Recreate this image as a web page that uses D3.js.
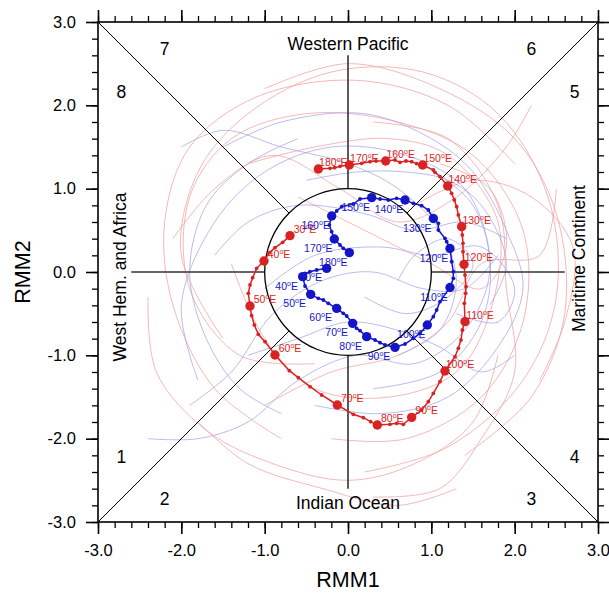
<!DOCTYPE html>
<html>
<head>
<meta charset="utf-8">
<script src="https://cdn.jsdelivr.net/npm/d3@7"></script>
<style>
  body { margin: 0; background: #fff; }
  svg { font-family: "Liberation Sans", Arial, sans-serif; }
</style>
</head>
<body>
<div id="chart"></div>
<script>
// composite tracks, [RMM1, RMM2, lon label or null]
const redTrack = [
  [-0.696, 0.436, 30], [-0.784, 0.356], [-0.876, 0.292], [-0.944, 0.232],
  [-1.008, 0.132, 40], [-1.096, 0.044], [-1.144, -0.068], [-1.176, -0.156], [-1.196, -0.256],
  [-1.176, -0.408, 50], [-1.156, -0.524], [-1.124, -0.636], [-1.076, -0.748], [-0.996, -0.836],
  [-0.876, -0.996, 60], [-0.704, -1.184], [-0.596, -1.268], [-0.456, -1.376], [-0.316, -1.476],
  [-0.128, -1.596, 70], [0.064, -1.708], [0.184, -1.748], [0.272, -1.796],
  [0.352, -1.836, 80], [0.504, -1.828], [0.584, -1.816], [0.664, -1.828],
  [0.764, -1.744, 90], [0.884, -1.656], [0.964, -1.556], [1.024, -1.456], [1.104, -1.316],
  [1.164, -1.188, 100], [1.284, -1.016], [1.324, -0.916], [1.356, -0.816], [1.372, -0.696],
  [1.404, -0.596, 110], [1.396, -0.376], [1.412, -0.256], [1.416, -0.176], [1.404, -0.036],
  [1.392, 0.092, 120], [1.380, 0.244], [1.380, 0.344], [1.372, 0.444],
  [1.364, 0.544, 130], [1.324, 0.684], [1.304, 0.784], [1.276, 0.864], [1.244, 0.944],
  [1.196, 1.032, 140], [1.104, 1.144], [1.044, 1.196], [1.024, 1.224],
  [0.896, 1.284, 150], [0.824, 1.300], [0.764, 1.324], [0.696, 1.332], [0.624, 1.316], [0.564, 1.344],
  [0.452, 1.332, 160], [0.336, 1.332], [0.264, 1.324], [0.164, 1.304],
  [0.016, 1.284, 170], [-0.096, 1.268], [-0.160, 1.252], [-0.216, 1.244],
  [-0.356, 1.236, 180]
];

const blueTrack = [
  [-0.256, 0.044, 30], [-0.376, 0.024], [-0.456, 0.004], [-0.516, -0.016],
  [-0.544, -0.056, 40], [-0.516, -0.168],
  [-0.448, -0.268, 50], [-0.356, -0.316], [-0.296, -0.336], [-0.236, -0.376],
  [-0.136, -0.436, 60], [-0.056, -0.496], [-0.016, -0.528],
  [0.056, -0.616, 70], [0.104, -0.676], [0.144, -0.704],
  [0.224, -0.776, 80], [0.324, -0.816], [0.384, -0.848], [0.444, -0.876],
  [0.564, -0.904, 90], [0.684, -0.864], [0.784, -0.796], [0.864, -0.736],
  [0.952, -0.636, 100], [1.024, -0.536], [1.064, -0.456], [1.104, -0.356],
  [1.224, -0.186, 110], [1.264, -0.076], [1.264, 0.004], [1.244, 0.124],
  [1.224, 0.282, 120], [1.184, 0.364], [1.164, 0.404], [1.084, 0.504], [1.084, 0.584],
  [1.024, 0.642, 130], [0.964, 0.744], [0.884, 0.796], [0.784, 0.824],
  [0.684, 0.864, 140], [0.584, 0.884], [0.484, 0.864], [0.384, 0.876],
  [0.284, 0.892, 150], [0.144, 0.876], [0.064, 0.816], [-0.076, 0.784], [-0.136, 0.732],
  [-0.196, 0.672, 160], [-0.224, 0.564], [-0.196, 0.484],
  [-0.164, 0.396, 170], [-0.096, 0.324], [-0.056, 0.284],
  [0.016, 0.232, 180]
];

// individual cases (faint)
const redCases = [
  [[-1.5,-0.8],[-2.0,0.2],[-1.8,1.2],[-1.2,1.9],[-0.2,2.4],[0.9,2.4],[1.8,1.9],[2.4,0.9],[2.5,-0.3],[2.1,-1.3],[1.2,-2.1],[0.2,-2.4]],
  [[-0.8,-2.0],[-1.6,-1.4],[-2.1,-0.4],[-2.2,0.6],[-1.9,1.5],[-1.1,2.1],[0.1,2.3],[1.2,2.0],[2.0,1.3]],
  [[1.4,-2.2],[2.2,-1.5],[2.6,-0.5],[2.5,0.7],[2.0,1.6],[1.1,2.2],[0.0,2.5],[-1.0,2.2]],
  [[-0.4,-1.1],[-1.3,-1.0],[-1.9,-0.2],[-1.9,0.9],[-1.4,1.6],[-0.5,1.9],[0.6,1.8],[1.5,1.4],[2.1,0.5],[2.1,-0.6],[1.6,-1.5],[0.7,-2.0],[-0.2,-2.0]],
  [[0.3,-2.7],[1.1,-2.6],[1.6,-2.0],[2.0,-1.2],[1.9,-0.2],[1.8,0.8],[1.2,1.6],[0.3,1.8]],
  [[-0.6,0.9],[0.2,0.5],[1.0,0.1],[1.6,-0.2],[1.9,0.3],[1.7,1.0],[1.1,1.3]],
  [[-2.4,-0.3],[-2.3,-1.2],[-1.7,-1.9],[-0.9,-2.3],[0.0,-2.5],[0.8,-2.3],[1.5,-1.8],[1.8,-1.0]],
  [[-1.8,-1.8],[-1.2,-2.3],[-0.3,-2.6],[0.6,-2.8],[1.3,-2.6]],
  [[0.8,0.8],[1.5,1.1],[2.2,0.9],[2.7,0.3],[2.6,-0.6],[2.3,-1.3]],
  [[-1.2,1.3],[-0.4,1.5],[0.5,1.6],[1.2,1.4],[1.8,0.6],[1.7,-0.5],[1.3,-1.2],[0.5,-1.5],[-0.4,-1.4],[-1.0,-0.8],[-1.4,0.1]],
  [[-2.1,0.4],[-1.6,1.0],[-0.9,1.4],[-0.1,1.0],[0.6,0.6],[1.3,0.9],[1.9,1.5],[2.2,2.0]],
  [[-1.0,-1.6],[-0.2,-1.2],[0.6,-1.0],[1.2,-0.6],[1.6,0.1],[2.3,0.2],[2.5,1.0]]
];

const blueCases = [
  [[-1.8,-1.3],[-2.0,-0.4],[-1.6,0.6],[-1.0,1.2],[-0.2,1.5],[0.7,1.4],[1.4,1.0],[1.7,0.2],[1.6,-0.6],[1.1,-1.2],[0.3,-1.4]],
  [[-2.4,-2.0],[-1.8,-2.0],[-1.2,-1.8],[-0.6,-1.3],[0.1,-1.0],[0.8,-1.1],[1.4,-0.7],[1.7,0.0],[1.5,0.8],[0.9,1.3]],
  [[-1.5,1.5],[-0.8,1.8],[0.2,1.9],[1.0,1.6],[1.5,1.2],[1.9,0.5],[2.1,-0.2],[1.8,-0.9],[1.2,-1.5],[0.4,-1.7],[-0.4,-1.6]],
  [[-1.0,-0.2],[-0.4,0.2],[0.4,0.3],[1.0,0.2],[1.6,0.3],[2.0,-0.2],[1.8,-0.6],[1.3,-0.5]],
  [[-1.6,0.2],[-1.2,0.6],[-0.6,0.8],[0.2,0.7],[0.8,0.5],[1.4,0.6],[1.9,0.4]],
  [[-0.8,-1.7],[-1.3,-1.4],[-1.7,-0.8],[-1.9,0.0],[-1.7,0.8],[-1.2,1.3],[-0.6,1.6]],
  [[-2.0,1.5],[-1.5,1.7],[-0.8,1.5],[0.0,1.3],[0.6,1.0],[1.1,0.5],[1.3,-0.1],[1.1,-0.7],[0.6,-1.0]],
  [[0.2,-0.3],[0.7,-0.5],[1.2,-0.3],[1.5,0.1],[1.2,0.4],[0.8,0.2],[0.6,-0.1]],
  [[-1.2,-1.0],[-0.6,-0.8],[0.0,-0.6],[0.6,-0.7],[1.1,-0.9],[1.6,-1.2],[2.0,-1.0]],
  [[-0.5,1.1],[0.1,1.2],[0.7,1.2],[1.2,1.1],[1.6,0.8],[1.9,0.1],[1.7,-0.4]],
  [[-1.9,-1.6],[-1.4,-1.2],[-0.9,-0.5],[-0.3,-0.1],[0.3,0.0],[0.9,-0.2],[1.4,-0.2],[1.8,0.2]]
];

const majorTicks = [-3, -2, -1, 0, 1, 2, 3];
const minorTicks = d3.range(-30, 31, 2).map(d => d / 10);

const phaseLabels = [
  {t: "1", x: -2.72, y: -2.22}, {t: "2", x: -2.2, y: -2.72},
  {t: "3", x: 2.2, y: -2.72},  {t: "4", x: 2.72, y: -2.22},
  {t: "5", x: 2.72, y: 2.16},  {t: "6", x: 2.2, y: 2.68},
  {t: "7", x: -2.2, y: 2.68},  {t: "8", x: -2.72, y: 2.16}
];

const W = 609, H = 594;
const x = d3.scaleLinear().domain([-3, 3]).range([98, 598]);
const y = d3.scaleLinear().domain([-3, 3]).range([522, 22]);

const svg = d3.select("#chart").append("svg")
  .attr("width", W).attr("height", H);

const line = d3.line().x(d => x(d[0])).y(d => y(d[1]));
const smooth = d3.line().x(d => x(d[0])).y(d => y(d[1])).curve(d3.curveCatmullRom);

// clip faint lines to the frame
svg.append("clipPath").attr("id", "frame")
  .append("rect").attr("x", x(-3)).attr("y", y(3))
  .attr("width", x(3) - x(-3)).attr("height", y(-3) - y(3));

const bg = svg.append("g").attr("clip-path", "url(#frame)");
bg.selectAll(".rc").data(redCases).enter().append("path")
  .attr("d", smooth).attr("fill", "none")
  .attr("stroke", "#f2a0a0").attr("stroke-width", 1).attr("opacity", 0.75);
bg.selectAll(".bc").data(blueCases).enter().append("path")
  .attr("d", smooth).attr("fill", "none")
  .attr("stroke", "#a4a4ec").attr("stroke-width", 1).attr("opacity", 0.75);

// phase dividers
const r0 = 1, rAxis = 2.6, k = Math.SQRT1_2;
const diag = [[-1,-1],[1,-1],[1,1],[-1,1]];
diag.forEach(([sx, sy]) => {
  svg.append("line")
    .attr("x1", x(sx * r0 * k)).attr("y1", y(sy * r0 * k))
    .attr("x2", x(sx * 3)).attr("y2", y(sy * 3))
    .attr("stroke", "#000").attr("stroke-width", 1);
});
[[1,0],[-1,0],[0,1],[0,-1]].forEach(([sx, sy]) => {
  svg.append("line")
    .attr("x1", x(sx * r0)).attr("y1", y(sy * r0))
    .attr("x2", x(sx * rAxis)).attr("y2", y(sy * rAxis))
    .attr("stroke", "#333").attr("stroke-width", 1.6);
});
svg.append("circle")
  .attr("cx", x(0)).attr("cy", y(0)).attr("r", x(1) - x(0))
  .attr("fill", "none").attr("stroke", "#000").attr("stroke-width", 1.3);

// region names
const lbl = svg.append("g").attr("font-size", 17.5).attr("fill", "#000");
lbl.append("text").attr("x", x(0)).attr("y", 50).attr("text-anchor", "middle").text("Western Pacific");
lbl.append("text").attr("x", x(0)).attr("y", 509).attr("text-anchor", "middle").text("Indian Ocean");
lbl.append("text").attr("transform", `translate(126,${y(-0.06)}) rotate(-90)`)
  .attr("text-anchor", "middle").text("West Hem. and Africa");
lbl.append("text").attr("transform", `translate(585,${y(0.16)}) rotate(-90)`)
  .attr("text-anchor", "middle").text("Maritime Continent");
lbl.selectAll(".ph").data(phaseLabels).enter().append("text")
  .attr("x", d => x(d.x)).attr("y", d => y(d.y)).attr("dy", "0.35em")
  .attr("text-anchor", "middle").text(d => d.t);

// composite tracks
function drawTrack(data, color, dx, dy) {
  const g = svg.append("g");
  g.append("path").datum(data).attr("d", line)
    .attr("fill", "none").attr("stroke", color).attr("stroke-width", 1.5);
  g.selectAll(".sm").data(data.filter(d => d[2] == null)).enter().append("circle")
    .attr("cx", d => x(d[0])).attr("cy", d => y(d[1])).attr("r", 1.9).attr("fill", color);
  const big = data.filter(d => d[2] != null);
  g.selectAll(".bg").data(big).enter().append("circle")
    .attr("cx", d => x(d[0])).attr("cy", d => y(d[1])).attr("r", 4.7).attr("fill", color);
  const t = g.selectAll(".lb").data(big).enter().append("text")
    .attr("x", d => x(d[0]) + dx).attr("y", d => y(d[1]) + dy + 4)
    .attr("text-anchor", "middle").attr("font-size", 10.5).attr("fill", color);
  t.append("tspan").text(d => d[2]);
  t.append("tspan").attr("font-size", 7).attr("dy", -4).text("o");
  t.append("tspan").attr("dy", 4).text("E");
}
drawTrack(redTrack, "#d92323", 15, -7);
drawTrack(blueTrack, "#1515c8", -16, 9);

// frame and ticks
svg.append("rect").attr("x", x(-3)).attr("y", y(3))
  .attr("width", x(3) - x(-3)).attr("height", y(-3) - y(3))
  .attr("fill", "none").attr("stroke", "#000").attr("stroke-width", 1.6);

const fmt = d => d.toFixed(1);
function axes(gen, tr, labels) {
  const gMaj = svg.append("g").attr("transform", tr)
    .call(gen.tickValues(majorTicks).tickSize(12).tickSizeOuter(0).tickPadding(labels ? 10 : 0)
      .tickFormat(labels ? fmt : ""));
  gMaj.select(".domain").remove();
  gMaj.selectAll("line").attr("stroke-width", 1.6);
  gMaj.selectAll("text").attr("font-size", 16.5).attr("font-family", "Liberation Sans, Arial, sans-serif");
  const gMin = svg.append("g").attr("transform", tr)
    .call(gen.tickValues(minorTicks).tickSize(6).tickFormat(""));
  gMin.select(".domain").remove();
  gMin.selectAll("line").attr("stroke-width", 1.3);
}
axes(d3.axisBottom(x), `translate(0,${y(-3)})`, true);
axes(d3.axisTop(x), `translate(0,${y(3)})`, false);
axes(d3.axisLeft(y), `translate(${x(-3)},0)`, true);
axes(d3.axisRight(y), `translate(${x(3)},0)`, false);

// axis titles
svg.append("text").attr("x", x(0)).attr("y", 587).attr("text-anchor", "middle")
  .attr("font-size", 21.5).text("RMM1");
svg.append("text").attr("transform", `translate(30,${y(0)}) rotate(-90)`)
  .attr("text-anchor", "middle").attr("font-size", 21.5).text("RMM2");
</script>
</body>
</html>
